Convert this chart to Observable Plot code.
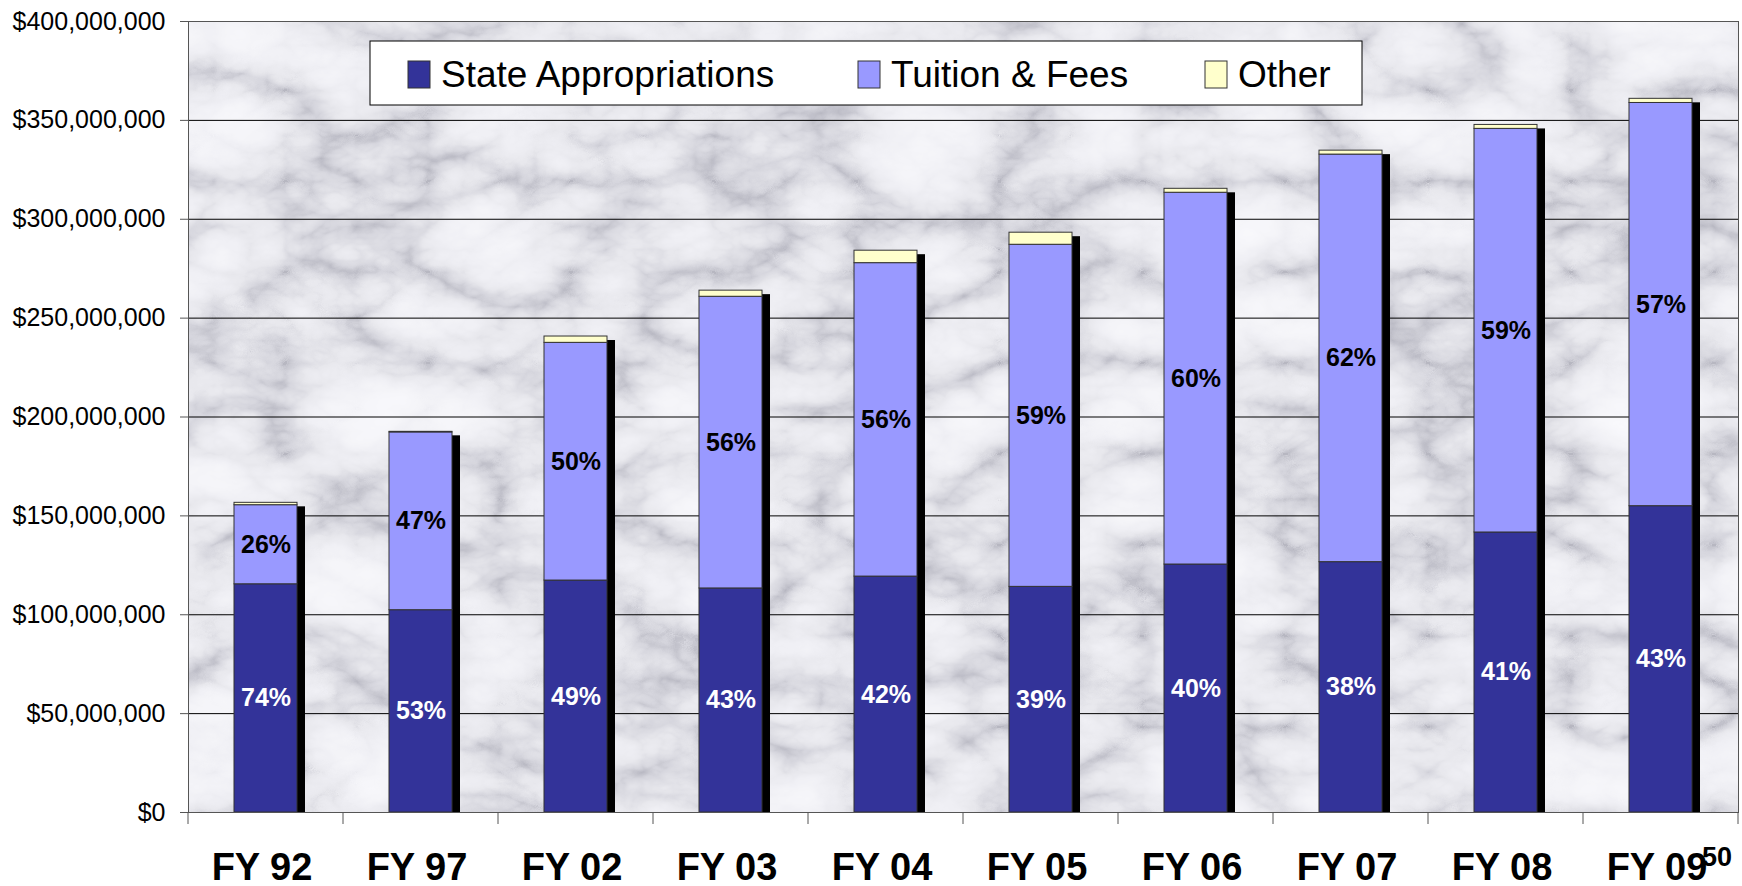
<!DOCTYPE html>
<html><head><meta charset="utf-8">
<script src="https://cdn.jsdelivr.net/npm/d3@7"></script>
<script src="https://cdn.jsdelivr.net/npm/@observablehq/plot@0.6"></script>
<style>
body{margin:0;background:#fff;}
svg{display:block;font-family:"Liberation Sans",Arial,sans-serif;}
</style>
</head><body><div id="chart"></div>
<script>
// ---- data (values in $ millions) ----
const categories = ["FY 92","FY 97","FY 02","FY 03","FY 04","FY 05","FY 06","FY 07","FY 08","FY 09"];
const seriesNames = ["State Appropriations","Tuition & Fees","Other"];
const seriesColors = ["#333399","#9999FF","#FFFFCC"];
const stateAppropriations = [115.4,102.3,117.3,113.3,119.3,114.1,125.4,126.6,141.6,154.9];
const tuitionFees = [40.0,89.9,120.2,147.5,158.5,173.0,188.0,206.1,204.1,203.9];
const otherRevenue = [1.2,0.3,3.2,3.1,6.3,6.1,2.0,2.0,2.0,2.1];
const statePctLabels = ["74%","53%","49%","43%","42%","39%","40%","38%","41%","43%"];
const tuitionPctLabels = ["26%","47%","50%","56%","56%","59%","60%","62%","59%","57%"];
const yTickValues = [0,50,100,150,200,250,300,350,400];
const yTickLabels = ["$0","$50,000,000","$100,000,000","$150,000,000","$200,000,000","$250,000,000","$300,000,000","$350,000,000","$400,000,000"];
const pageNumber = "50";

// ---- derived tables ----
const seriesValues = [stateAppropriations, tuitionFees, otherRevenue];
const rows = [];
categories.forEach((c,i)=>seriesNames.forEach((s,j)=>rows.push({cat:c, series:s, value:seriesValues[j][i]})));
const totals = categories.map((c,i)=>({cat:c, total:stateAppropriations[i]+tuitionFees[i]+otherRevenue[i]}));
const stateLabels = categories.map((c,i)=>({cat:c, y:stateAppropriations[i]/2, text:statePctLabels[i]}));
const tuitionLabels = categories.map((c,i)=>({cat:c, y:stateAppropriations[i]+tuitionFees[i]/2, text:tuitionPctLabels[i]}));

const FONT = '"Liberation Sans",Arial,sans-serif';
const plot = Plot.plot({
  width:1742, height:886,
  marginLeft:188, marginRight:4, marginTop:21, marginBottom:74,
  x:{domain:categories, padding:0, label:null},
  y:{domain:[0,400], label:null},
  color:{domain:seriesNames, range:seriesColors},
  style:{fontFamily:FONT, color:"#000", background:"transparent", overflow:"visible"},
  marks:[
    Plot.ruleY(yTickValues.filter(v=>v>0 && v<400), {stroke:"#000", strokeWidth:1}),
    Plot.barY(totals, {x:"cat", y:"total", fill:"#000", insetLeft:54, insetRight:38, insetTop:4}),
    Plot.barY(rows, Plot.stackY({x:"cat", y:"value", z:"series", fill:"series", stroke:"#333", strokeWidth:1, insetLeft:46, insetRight:46})),
    Plot.text(stateLabels, {x:"cat", y:"y", text:"text", fill:"#fff", fontSize:25, fontWeight:"bold"}),
    Plot.text(tuitionLabels, {x:"cat", y:"y", text:"text", fill:"#000", fontSize:25, fontWeight:"bold"}),
    Plot.axisY({ticks:yTickValues, tickFormat:d=>yTickLabels[yTickValues.indexOf(d)], tickSize:8, tickPadding:15, fontSize:25, stroke:"#555", fill:"#000"}),
    Plot.axisX({tickSize:0, tickPadding:41, fontSize:38, fontWeight:"bold", dx:-4, fill:"#000"}),
    Plot.frame({stroke:"#555"})
  ]
});
document.getElementById("chart").appendChild(plot);

// ---- extras drawn with the plot's scales ----
const svg = d3.select(plot);
const xs = plot.scale("x"), ys = plot.scale("y");
const [x0,x1] = xs.range, [yb,yt] = ys.range;

// marble background
const defs = svg.insert("defs",":first-child");
const f = defs.append("filter").attr("id","marble").attr("x",0).attr("y",0).attr("width",1).attr("height",1)
  .attr("color-interpolation-filters","sRGB");
f.append("feTurbulence").attr("type","turbulence").attr("baseFrequency","0.007 0.011").attr("numOctaves",5).attr("seed",11).attr("result","t");
f.append("feColorMatrix").attr("type","matrix").attr("values","1 0 0 0 0  1 0 0 0 0  1 0 0 0 0  0 0 0 0 1");
const ct = f.append("feComponentTransfer");
ct.append("feFuncR").attr("type","table").attr("tableValues","0.72 0.84 0.91 0.94 0.96 0.97 0.98");
ct.append("feFuncG").attr("type","table").attr("tableValues","0.72 0.84 0.91 0.94 0.96 0.97 0.98");
ct.append("feFuncB").attr("type","table").attr("tableValues","0.76 0.87 0.93 0.96 0.975 0.985 0.99");
svg.insert("rect","g").attr("x",x0).attr("y",yt).attr("width",x1-x0).attr("height",yb-yt)
  .attr("fill","#eee").attr("filter","url(#marble)");

// x tick marks at category boundaries
const bounds = categories.map(c=>xs.apply(c)).concat([xs.apply(categories[categories.length-1])+xs.bandwidth]);
svg.append("g").selectAll("line").data(bounds).join("line")
  .attr("x1",d=>d).attr("x2",d=>d).attr("y1",yb).attr("y2",yb+12).attr("stroke","#555");

// legend
const lg = svg.append("g").attr("font-family",FONT).attr("font-size",37).attr("text-anchor","start");
lg.append("rect").attr("x",370).attr("y",41).attr("width",992).attr("height",64).attr("fill","#fff").attr("stroke","#000");
const legX = [408, 858, 1205];
seriesNames.forEach((s,i)=>{
  lg.append("rect").attr("x",legX[i]).attr("y",61).attr("width",22).attr("height",27).attr("fill",seriesColors[i]).attr("stroke","#333");
  lg.append("text").attr("x",legX[i]+33).attr("y",87).attr("fill","#000").text(s);
});

// page number
svg.append("text").attr("x",1702).attr("y",866).attr("text-anchor","start").attr("font-family",FONT)
  .attr("font-size",27).attr("font-weight","bold").attr("fill","#000").text(pageNumber);
</script>
</body></html>
